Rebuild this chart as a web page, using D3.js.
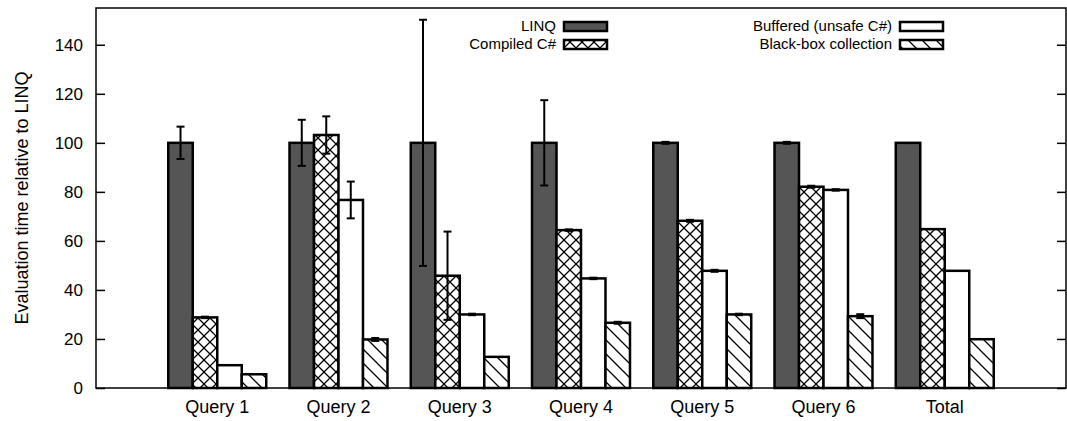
<!DOCTYPE html>
<html>
<head>
<meta charset="utf-8">
<script src="https://cdn.jsdelivr.net/npm/d3@7"></script>
<style>
body { margin: 0; background: #fff; }
text { font-family: "Liberation Sans", Arial, sans-serif; }
</style>
</head>
<body>
<svg id="chart" width="1067" height="421"></svg>
<script>
const categories = ["Query 1", "Query 2", "Query 3", "Query 4", "Query 5", "Query 6", "Total"];
const seriesNames = ["LINQ", "Compiled C#", "Buffered (unsafe C#)", "Black-box collection"];
const linq = [100, 100, 100, 100, 100, 100, 100];
const compiled = [28.8, 103.2, 45.8, 64.4, 68.2, 82.1, 64.8];
const buffered = [9.3, 76.7, 30.0, 44.7, 47.8, 80.8, 47.8];
const blackbox = [5.6, 19.8, 12.7, 26.6, 30.0, 29.3, 19.9];
const linqErr = [6.6, 9.4, 50.2, 17.4, 0.4, 0.4, 0];
const compiledErr = [0.3, 7.6, 18.0, 0.3, 0.4, 0.4, 0];
const bufferedErr = [0, 7.5, 0.3, 0.3, 0.4, 0.3, 0];
const blackboxErr = [0, 0.6, 0, 0.4, 0.3, 0.8, 0];
const yTicks = [0, 20, 40, 60, 80, 100, 120, 140];

const LEFT = 96, RIGHT = 1066, TOP = 8, BOTTOM = 388;
const svg = d3.select("#chart");

const x = d3.scaleLinear().domain([-1, 7]).range([LEFT, RIGHT]);
const y = d3.scaleLinear().domain([0, 155]).range([BOTTOM, TOP]);
const barW = x(0.202) - x(0);

// patterns
const defs = svg.append("defs");
const P = 12;
const cross = defs.append("pattern").attr("id", "cross")
    .attr("patternUnits", "userSpaceOnUse").attr("width", P).attr("height", P);
cross.append("rect").attr("width", P).attr("height", P).attr("fill", "#fff");
cross.append("path").attr("d", `M0,0L${P},${P}M${P},0L0,${P}`)
    .attr("stroke", "#000").attr("stroke-width", 1.3);
const D = 14;
const diag = defs.append("pattern").attr("id", "diag")
    .attr("patternUnits", "userSpaceOnUse").attr("width", D).attr("height", D);
diag.append("rect").attr("width", D).attr("height", D).attr("fill", "#fff");
diag.append("path").attr("d", `M-1,-1L${D + 1},${D + 1}M-1,${D - 1}L1,${D + 1}M${D - 1},-1L${D + 1},1`)
    .attr("stroke", "#000").attr("stroke-width", 1.3);

const fills = ["#555555", "url(#cross)", "#ffffff", "url(#diag)"];
const series = [
    {name: seriesNames[0], values: linq, err: linqErr},
    {name: seriesNames[1], values: compiled, err: compiledErr},
    {name: seriesNames[2], values: buffered, err: bufferedErr},
    {name: seriesNames[3], values: blackbox, err: blackboxErr}
];

// axes frame
svg.append("rect")
    .attr("x", LEFT).attr("y", TOP)
    .attr("width", RIGHT - LEFT).attr("height", BOTTOM - TOP)
    .attr("fill", "none").attr("stroke", "#000").attr("stroke-width", 1.5);

const yAxis = svg.append("g")
    .attr("transform", `translate(${LEFT},0)`)
    .call(d3.axisLeft(y).tickValues(yTicks).tickSize(-9).tickPadding(13));
yAxis.select(".domain").remove();
yAxis.selectAll("line").attr("stroke-width", 1.5);
yAxis.selectAll("text").style("font-size", "17px").attr("fill", "#000")
    .style("font-family", "'Liberation Sans', Arial, sans-serif");

const yAxisR = svg.append("g")
    .attr("transform", `translate(${RIGHT},0)`)
    .call(d3.axisRight(y).tickValues(yTicks).tickSize(-9).tickFormat(""));
yAxisR.select(".domain").remove();
yAxisR.selectAll("line").attr("stroke-width", 1.5);

// y label
svg.append("text")
    .attr("transform", `translate(28,198) rotate(-90)`)
    .attr("text-anchor", "middle")
    .style("font-size", "18px")
    .text("Evaluation time relative to LINQ");

// x labels
svg.selectAll(".xlab").data(categories).enter().append("text")
    .attr("class", "xlab")
    .attr("x", (d, i) => x(i))
    .attr("y", 413)
    .attr("text-anchor", "middle")
    .style("font-size", "18px")
    .text(d => d);

// bars
series.forEach(function (s, si) {
    const off = (si - 2) * barW;
    svg.append("g").selectAll("rect").data(s.values).enter().append("rect")
        .attr("x", (d, i) => x(i) + off)
        .attr("y", d => y(d))
        .attr("width", barW)
        .attr("height", d => BOTTOM - y(d))
        .attr("fill", fills[si])
        .attr("stroke", "#000")
        .attr("stroke-width", 2.5);
});

// error bars
series.forEach(function (s, si) {
    const off = (si - 1.5) * barW;
    s.values.forEach(function (v, i) {
        const e = s.err[i];
        if (!e) return;
        const cx = x(i) + off;
        const g = svg.append("g").attr("stroke", "#000").attr("stroke-width", 2);
        g.append("line").attr("x1", cx).attr("x2", cx)
            .attr("y1", y(v - e)).attr("y2", y(v + e));
        g.append("line").attr("x1", cx - 4).attr("x2", cx + 4)
            .attr("y1", y(v - e)).attr("y2", y(v - e));
        g.append("line").attr("x1", cx - 4).attr("x2", cx + 4)
            .attr("y1", y(v + e)).attr("y2", y(v + e));
    });
});

// legend
const legendPos = [
    {tx: 556, sx: 564, y: 26},
    {tx: 556, sx: 564, y: 44},
    {tx: 892, sx: 900, y: 26},
    {tx: 892, sx: 900, y: 44}
];
series.forEach(function (s, si) {
    const p = legendPos[si];
    svg.append("text")
        .attr("x", p.tx).attr("y", p.y + 5)
        .attr("text-anchor", "end")
        .style("font-size", "15px")
        .text(s.name);
    svg.append("rect")
        .attr("x", p.sx).attr("y", p.y - 4)
        .attr("width", 43).attr("height", 9)
        .attr("fill", fills[si])
        .attr("stroke", "#000")
        .attr("stroke-width", 2.5);
});
</script>
</body>
</html>
